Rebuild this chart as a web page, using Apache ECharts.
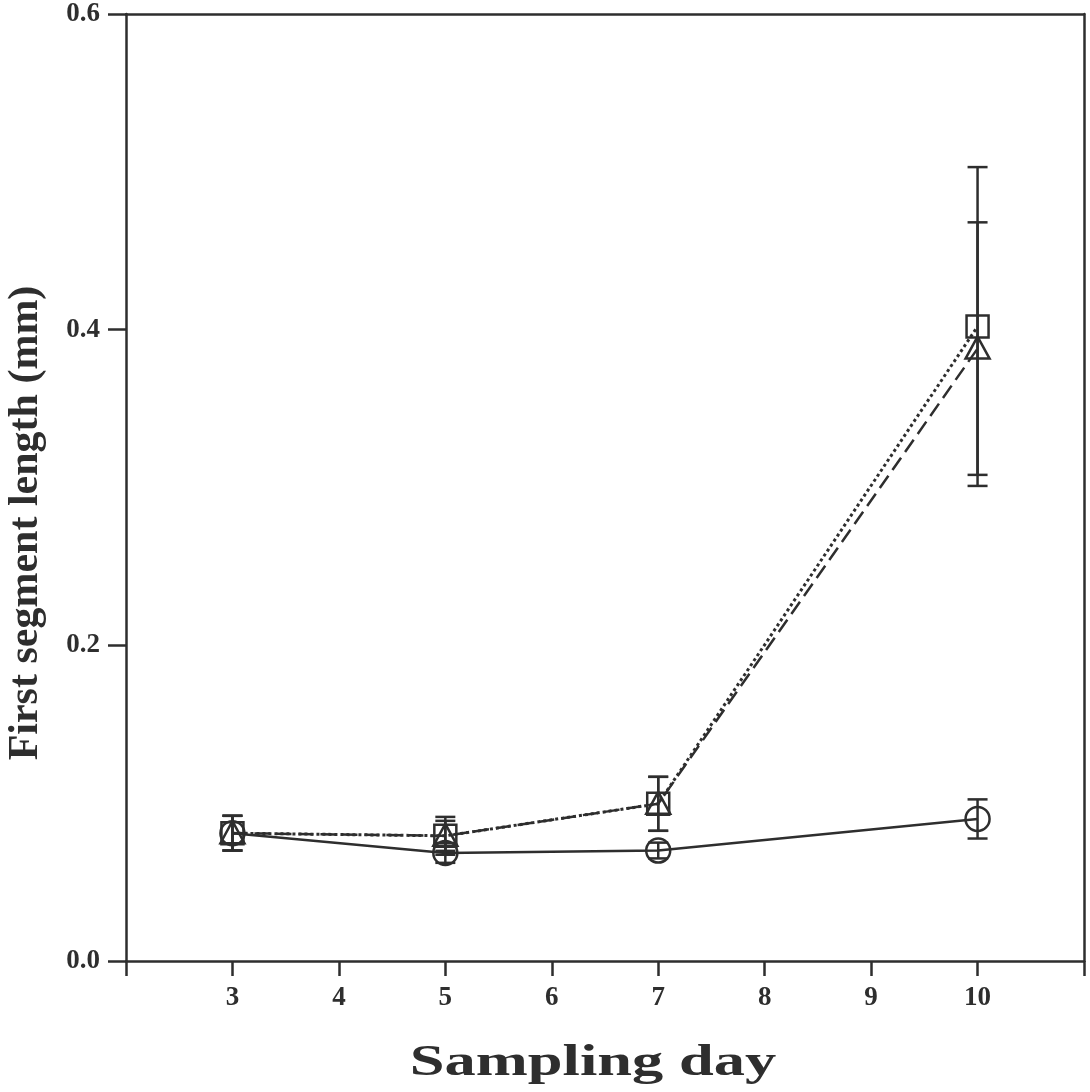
<!DOCTYPE html>
<html>
<head>
<meta charset="utf-8">
<title>First segment length by sampling day</title>
<script src="https://cdn.jsdelivr.net/npm/echarts@6/dist/echarts.min.js"></script>
<style>
  html, body { margin: 0; padding: 0; background: #ffffff; }
  #chart { width: 1090px; height: 1092px; }
</style>
</head>
<body>
<div id="chart"></div>
<script>
// Sampling days and tick labels
const days = [3, 5, 7, 10];
const xTickLabels = ['3', '4', '5', '6', '7', '8', '9', '10'];
const yTickLabels = ['0.0', '0.2', '0.4', '0.6'];

// Mean first segment length (mm) and error half-widths for each treatment
const circleMean = [0.081, 0.0685, 0.070, 0.090];
const circleErr = [0.011, 0.0063, 0.005, 0.0124];
const triangleMean = [0.081, 0.0793, 0.0996, 0.388];
const triangleErr = [0.011, 0.0095, 0.0171, 0.080];
const squareMean = [0.081, 0.0793, 0.0996, 0.402];
const squareErr = [0.011, 0.012, 0.0171, 0.101];

const INK = '#2e2e2e';
const SERIF = '"Liberation Serif", "Times New Roman", serif';

function points(means) {
  return days.map((d, i) => [d, means[i]]);
}
function withErr(means, errs) {
  return days.map((d, i) => [d, means[i], errs[i]]);
}

// Error bar with caps plus a hollow marker, drawn at the data coordinate
function markerRenderer(shape) {
  return function (params, api) {
    const x = api.value(0), m = api.value(1), e = api.value(2);
    const c = api.coord([x, m]);
    const hi = api.coord([x, m + e]);
    const lo = api.coord([x, m - e]);
    const cap = 10;
    const st = { stroke: INK, lineWidth: 2.5, fill: 'none' };
    const children = [
      { type: 'line', shape: { x1: c[0], y1: hi[1], x2: c[0], y2: lo[1] }, style: st },
      { type: 'line', shape: { x1: c[0] - cap, y1: hi[1], x2: c[0] + cap, y2: hi[1] }, style: st },
      { type: 'line', shape: { x1: c[0] - cap, y1: lo[1], x2: c[0] + cap, y2: lo[1] }, style: st }
    ];
    if (shape === 'circle') {
      children.push({ type: 'circle', shape: { cx: c[0], cy: c[1], r: 12 }, style: st });
    } else if (shape === 'square') {
      children.push({ type: 'rect', shape: { x: c[0] - 11, y: c[1] - 11, width: 22, height: 22 }, style: st });
    } else {
      children.push({
        type: 'polygon',
        shape: { points: [[c[0], c[1] - 12], [c[0] + 12, c[1] + 10], [c[0] - 12, c[1] + 10]] },
        style: st
      });
    }
    return { type: 'group', children: children };
  };
}

const chart = echarts.init(document.getElementById('chart'), null, { renderer: 'canvas' });

const option = {
  backgroundColor: '#ffffff',
  animation: false,
  grid: { left: 126, right: 6, top: 14, bottom: 131 },
  xAxis: [
    {
      type: 'value', min: 2, max: 11, interval: 1,
      axisLine: { show: true, lineStyle: { color: INK, width: 2.5 } },
      axisTick: { show: true, inside: false, length: 15, lineStyle: { color: INK, width: 2.5 } },
      axisLabel: {
        margin: 24,
        color: INK,
        fontFamily: SERIF, fontWeight: 'bold', fontSize: 27,
        formatter: v => (xTickLabels.indexOf(String(v)) >= 0 ? String(v) : '')
      },
      splitLine: { show: false }
    },
    {
      type: 'value', min: 2, max: 11, position: 'top',
      axisLine: { show: true, onZero: false, lineStyle: { color: INK, width: 2.5 } },
      axisTick: { show: false }, axisLabel: { show: false }, splitLine: { show: false }
    }
  ],
  yAxis: [
    {
      type: 'value', min: 0, max: 0.6, interval: 0.2,
      axisLine: { show: true, lineStyle: { color: INK, width: 2.5 } },
      axisTick: { show: true, inside: false, length: 18, lineStyle: { color: INK, width: 2.5 } },
      axisLabel: {
        margin: 26,
        color: INK,
        fontFamily: SERIF, fontWeight: 'bold', fontSize: 27,
        formatter: v => yTickLabels[Math.round(v / 0.2)]
      },
      splitLine: { show: false }
    },
    {
      type: 'value', min: 0, max: 0.6, position: 'right',
      axisLine: { show: true, onZero: false, lineStyle: { color: INK, width: 2.5 } },
      axisTick: { show: false }, axisLabel: { show: false }, splitLine: { show: false }
    }
  ],
  graphic: [
    {
      type: 'text', x: 26, y: 523, rotation: Math.PI / 2,
      style: {
        text: 'First segment length (mm)',
        font: 'bold 42px ' + SERIF, fill: INK,
        align: 'center', verticalAlign: 'middle'
      }
    },
    {
      type: 'text', x: 593, y: 1064, scaleX: 1.42,
      style: {
        text: 'Sampling day',
        font: 'bold 44px ' + SERIF, fill: INK,
        align: 'center', verticalAlign: 'middle'
      }
    }
  ],
  series: [
    {
      type: 'line', data: points(circleMean), showSymbol: false,
      lineStyle: { color: INK, width: 2.5, type: 'solid' }, z: 2
    },
    {
      type: 'line', data: points(triangleMean), showSymbol: false,
      lineStyle: { color: INK, width: 2.5, type: [15, 7] }, z: 2
    },
    {
      type: 'line', data: points(squareMean), showSymbol: false,
      lineStyle: { color: INK, width: 3, type: [3, 3] }, z: 2
    },
    { type: 'custom', renderItem: markerRenderer('circle'), data: withErr(circleMean, circleErr), z: 3 },
    { type: 'custom', renderItem: markerRenderer('triangle'), data: withErr(triangleMean, triangleErr), z: 3 },
    { type: 'custom', renderItem: markerRenderer('square'), data: withErr(squareMean, squareErr), z: 3 }
  ]
};

chart.setOption(option);
</script>
</body>
</html>
